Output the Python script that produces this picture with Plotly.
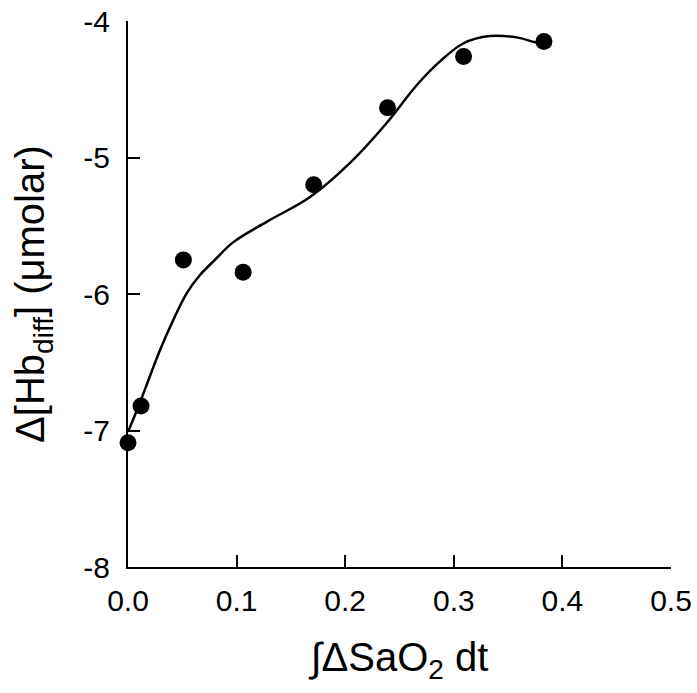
import plotly.graph_objects as go

# Measured points: integrated SaO2 change vs. change in Hb difference
sao2_integral = [0.0, 0.012, 0.051, 0.106, 0.171, 0.239, 0.309, 0.383]
hb_diff = [-7.09, -6.82, -5.75, -5.84, -5.20, -4.635, -4.26, -4.15]

# Smooth fitted curve, traced as a set of points
curve_x = [0.0, 0.0095, 0.020, 0.0295, 0.0417, 0.054, 0.0663, 0.080, 0.097,
           0.128, 0.168, 0.204, 0.238, 0.266, 0.287, 0.309, 0.333, 0.358,
           0.375, 0.383]
curve_y = [-7.01, -6.826, -6.606, -6.41, -6.19, -5.995, -5.861, -5.75, -5.62,
           -5.47, -5.287, -5.043, -4.749, -4.469, -4.298, -4.163, -4.110,
           -4.120, -4.156, -4.165]

x_ticks = [0.0, 0.1, 0.2, 0.3, 0.4, 0.5]
x_tick_text = ["0.0", "0.1", "0.2", "0.3", "0.4", "0.5"]
y_ticks = [-8, -7, -6, -5, -4]
y_tick_text = ["-8", "-7", "-6", "-5", "-4"]

FONT = "Liberation Sans, Arial, Helvetica, sans-serif"

fig = go.Figure()
fig.add_trace(go.Scatter(
    x=curve_x, y=curve_y, mode="lines",
    line=dict(color="black", width=2.5, shape="spline", smoothing=1.0),
    hoverinfo="skip", cliponaxis=False,
))
fig.add_trace(go.Scatter(
    x=sao2_integral, y=hb_diff, mode="markers",
    marker=dict(color="black", size=17),
    cliponaxis=False,
))

axis_common = dict(
    showline=True, linecolor="black", linewidth=2,
    ticks="inside", ticklen=12, tickwidth=2, tickcolor="black",
    showgrid=False, zeroline=False, mirror=False, automargin=False,
    tickfont=dict(family=FONT, size=30, color="black"),
)

fig.update_xaxes(
    range=[0, 0.5], tickvals=x_ticks, ticktext=x_tick_text,
    title=dict(text="∫ΔSaO<sub>2</sub> dt",
               font=dict(family=FONT, size=40, color="black"), standoff=27),
    ticklabelstandoff=6,
    **axis_common,
)
fig.update_yaxes(
    range=[-8, -4], tickvals=y_ticks, ticktext=y_tick_text,
    title=dict(text="Δ[Hb<sub>diff</sub>] (μmolar)",
               font=dict(family=FONT, size=40, color="black"), standoff=26),
    ticklabelstandoff=10,
    **axis_common,
)

fig.update_layout(
    width=697, height=693,
    margin=dict(l=128, r=26, t=21, b=126),
    plot_bgcolor="white", paper_bgcolor="white",
    showlegend=False,
)

fig.write_html("out.html")
